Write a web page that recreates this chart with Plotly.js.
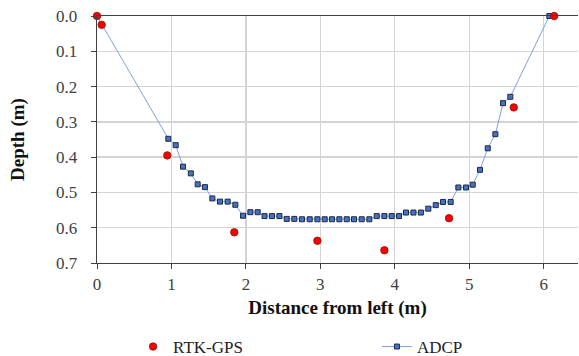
<!DOCTYPE html>
<html>
<head>
<meta charset="utf-8">
<script src="https://cdn.plot.ly/plotly-3.0.1.min.js"></script>
<style>
html,body{margin:0;padding:0;background:#fff;}
#chart{width:579px;height:356px;}
</style>
</head>
<body>
<div id="chart"></div>
<script>
// RTK-GPS survey points
const rtkDistance = [0.0, 0.063, 0.944, 1.844, 2.96, 3.86, 4.728, 5.597, 6.14];
const rtkDepth    = [0.0, 0.025, 0.395, 0.613, 0.637, 0.664, 0.573, 0.259, 0.0];

// ADCP profile
const adcpDistance = [0.0, 0.958, 1.057, 1.155, 1.26, 1.352, 1.45, 1.549, 1.652, 1.755, 1.858, 1.961,
  2.06, 2.158, 2.25, 2.35, 2.45, 2.548, 2.65, 2.753, 2.857, 2.96, 3.058, 3.157, 3.255, 3.354,
  3.452, 3.555, 3.658, 3.757, 3.86, 3.958, 4.056, 4.15, 4.25, 4.35, 4.45, 4.55, 4.647, 4.75,
  4.853, 4.956, 5.046, 5.144, 5.248, 5.35, 5.453, 5.551, 6.075];
const adcpDepth = [0.0, 0.348, 0.366, 0.427, 0.446, 0.477, 0.485, 0.517, 0.526, 0.526, 0.535, 0.566,
  0.556, 0.556, 0.567, 0.567, 0.567, 0.575, 0.575, 0.576, 0.576, 0.576, 0.576, 0.576, 0.576, 0.576,
  0.576, 0.576, 0.576, 0.567, 0.567, 0.567, 0.567, 0.557, 0.557, 0.557, 0.546, 0.536, 0.527, 0.527,
  0.486, 0.486, 0.478, 0.436, 0.375, 0.335, 0.247, 0.229, 0.0];

const xTicks = [0, 1, 2, 3, 4, 5, 6];
const yTicks = [0.0, 0.1, 0.2, 0.3, 0.4, 0.5, 0.6, 0.7];

const serif = 'Times New Roman';

const traces = [
  {
    x: adcpDistance, y: adcpDepth, name: 'ADCP', type: 'scatter', mode: 'lines+markers',
    cliponaxis: false, legend: 'legend2',
    line: {color: '#7FA3DA', width: 1},
    marker: {symbol: 'square', size: 5, color: '#4472C4', line: {color: '#1F2A44', width: 1}}
  },
  {
    x: rtkDistance, y: rtkDepth, name: 'RTK-GPS', type: 'scatter', mode: 'markers',
    cliponaxis: false, legend: 'legend',
    marker: {symbol: 'circle', size: 7.5, color: '#FF0000', line: {color: '#7A1A1A', width: 0.8}}
  }
];

const legendFont = {family: serif, size: 17, color: '#222'};

const layout = {
  width: 579, height: 356,
  margin: {l: 97, r: 1, t: 16, b: 93, autoexpand: false},
  paper_bgcolor: '#fff', plot_bgcolor: '#fff',
  showlegend: true,
  legend: {
    orientation: 'h', x: 0.075, xanchor: 'left', y: -0.34, yanchor: 'middle',
    font: legendFont, bgcolor: 'rgba(0,0,0,0)'
  },
  legend2: {
    orientation: 'h', x: 0.582, xanchor: 'left', y: -0.34, yanchor: 'middle',
    font: legendFont, bgcolor: 'rgba(0,0,0,0)'
  },
  xaxis: {
    range: [0, 6.46], tickvals: xTicks, ticktext: xTicks.map(String),
    showgrid: true, gridcolor: '#D4D4D4', gridwidth: 1.3,
    showline: true, linecolor: '#404040', linewidth: 1.3, mirror: true,
    ticks: 'outside', ticklen: 5, tickcolor: '#404040',
    zeroline: false, automargin: false,
    tickfont: {family: serif, size: 17, color: '#404040'},
    title: {text: '<b>Distance from left (m)</b>', font: {family: serif, size: 19, color: '#111'}, standoff: 8}
  },
  yaxis: {
    range: [0.7, 0], tickvals: yTicks, ticktext: yTicks.map(v => v.toFixed(1)),
    showgrid: true, gridcolor: '#D4D4D4', gridwidth: 1.3,
    showline: true, linecolor: '#404040', linewidth: 1.3,
    ticks: 'outside', ticklen: 5, tickcolor: '#404040', ticklabelstandoff: 10,
    zeroline: false, automargin: false,
    tickfont: {family: serif, size: 17, color: '#404040'},
    title: {text: '<b>Depth (m)</b>', font: {family: serif, size: 19, color: '#111'}, standoff: 26}
  }
};

Plotly.newPlot('chart', traces, layout, {displayModeBar: false, staticPlot: true});
</script>
</body>
</html>
